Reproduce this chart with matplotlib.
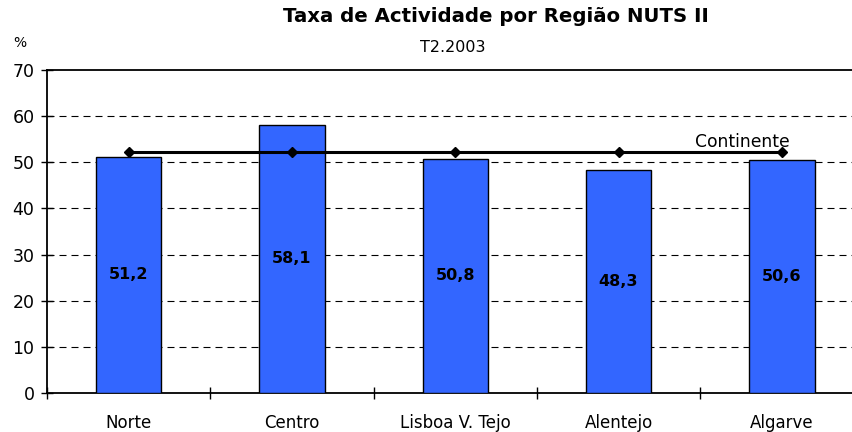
import matplotlib
matplotlib.use("Agg")
import matplotlib.pyplot as plt

regions = ["Norte", "Centro", "Lisboa V. Tejo", "Alentejo", "Algarve"]
values = [51.2, 58.1, 50.8, 48.3, 50.6]
continente = [52.2, 52.2, 52.2, 52.2, 52.2]
labels = ["51,2", "58,1", "50,8", "48,3", "50,6"]
yticks = [0, 10, 20, 30, 40, 50, 60, 70]

plt.rcParams['font.family'] = ['DejaVu Sans']

fig = plt.figure(figsize=(8.53, 4.32), dpi=100)
W, H = 853, 432
left, right, top, bottom = 47, 863.5, 70, 393
ax = fig.add_axes([left / W, 1 - bottom / H, (right - left) / W, (bottom - top) / H])

x = list(range(len(regions)))
ax.bar(x, values, width=0.4, color="#3366FF", edgecolor="black", linewidth=1, zorder=3)
ax.plot(x, continente, color="black", linewidth=2.2, marker="D", markersize=5, zorder=4)

for xi, v, lab in zip(x, values, labels):
    ax.text(xi, v / 2, lab, ha="center", va="center", fontsize=11.5, fontweight="bold", zorder=5)

fig.text(790 / W, 1 - 147 / H, "Continente", ha="right", va="baseline", fontsize=12.3)

ax.set_xlim(-0.5, len(regions) - 0.5)
ax.set_ylim(0, 70)
ax.set_yticks(yticks)
ax.set_yticklabels([str(t) for t in yticks], fontsize=12.5)
ax.set_xticks(x)
ax.set_xticklabels(regions, fontsize=12)
ax.tick_params(axis="x", length=0, pad=15)
ax.set_xticks([i - 0.5 for i in range(len(regions))], minor=True)
ax.tick_params(axis="x", which="minor", length=8, direction="inout", width=1)
ax.tick_params(axis="y", length=8, direction="inout", width=1, pad=5)

for t in yticks[1:-1]:
    ax.axhline(t, color="black", linestyle=(0, (6.3, 4.5)), linewidth=0.8, zorder=1)

ax.spines["right"].set_visible(False)
for s in ["left", "bottom", "top"]:
    ax.spines[s].set_linewidth(1.3)
    ax.spines[s].set_color("black")

fig.text(496 / W, 1 - 17 / H, "Taxa de Actividade por Região NUTS II", ha="center", va="center",
         fontsize=14.2, fontweight="bold")
fig.text(453 / W, 1 - 47 / H, "T2.2003", ha="center", va="center", fontsize=11.5)
fig.text(20 / W, 1 - 43 / H, "%", ha="center", va="center", fontsize=10)

fig.savefig("out.png", dpi=100)
